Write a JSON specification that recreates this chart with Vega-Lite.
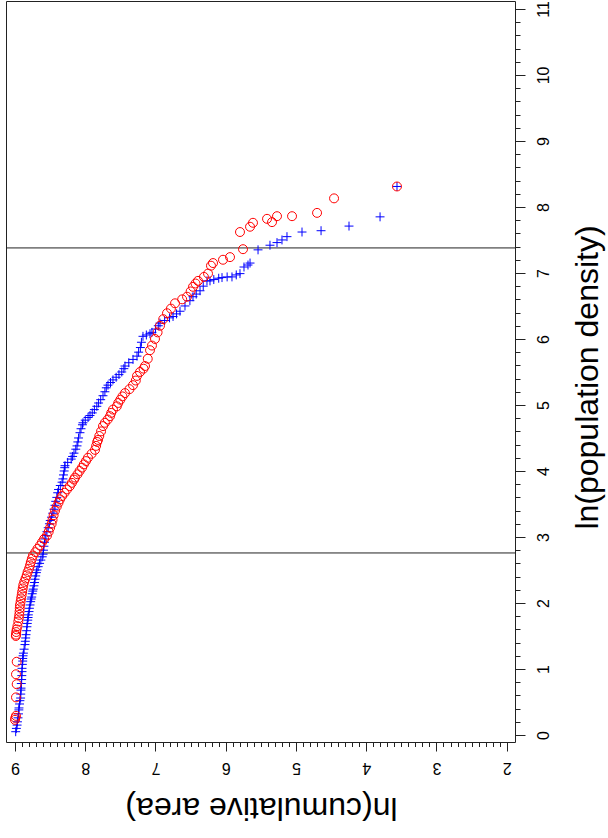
{
  "$schema": "https://vega.github.io/schema/vega-lite/v6.json",
  "width": 509,
  "height": 741,
  "autosize": {"type": "none"},
  "padding": {"left": 6, "top": 1, "right": 93, "bottom": 96},
  "background": "white",
  "config": {"view": {"stroke": "#222", "strokeWidth": 1}, "font": "Liberation Sans"},
  "datasets": {
    "lines": [{"d": 2.758}, {"d": 7.379}],
    "pts": [
      {"s":"b","d":0.05,"v":8.99},{"s":"b","d":0.1,"v":8.98},{"s":"b","d":0.15,"v":8.97},{"s":"b","d":0.2,"v":8.965},{"s":"b","d":0.26,"v":8.957},{"s":"b","d":0.32,"v":8.95},{"s":"b","d":0.38,"v":8.945},{"s":"b","d":0.41,"v":8.943},{"s":"b","d":0.47,"v":8.935},{"s":"b","d":0.52,"v":8.93},{"s":"b","d":0.56,"v":8.92},{"s":"b","d":0.62,"v":8.918},{"s":"b","d":0.68,"v":8.915},{"s":"b","d":0.71,"v":8.914},{"s":"b","d":0.78,"v":8.91},{"s":"b","d":0.84,"v":8.905},{"s":"b","d":0.9,"v":8.903},{"s":"b","d":0.96,"v":8.9},{"s":"b","d":1.01,"v":8.9},{"s":"b","d":1.07,"v":8.895},{"s":"b","d":1.12,"v":8.89},{"s":"b","d":1.16,"v":8.89},{"s":"b","d":1.2,"v":8.885},{"s":"b","d":1.24,"v":8.88},{"s":"b","d":1.3,"v":8.87},{"s":"b","d":1.37,"v":8.858},{"s":"b","d":1.42,"v":8.853},{"s":"b","d":1.47,"v":8.848},{"s":"b","d":1.52,"v":8.843},{"s":"b","d":1.58,"v":8.835},{"s":"b","d":1.64,"v":8.83},{"s":"b","d":1.69,"v":8.825},{"s":"b","d":1.74,"v":8.818},{"s":"b","d":1.78,"v":8.814},{"s":"b","d":1.82,"v":8.81},{"s":"b","d":1.87,"v":8.8},{"s":"b","d":1.92,"v":8.795},{"s":"b","d":1.97,"v":8.786},{"s":"b","d":2.02,"v":8.777},{"s":"b","d":2.06,"v":8.77},{"s":"b","d":2.09,"v":8.762},{"s":"b","d":2.14,"v":8.755},{"s":"b","d":2.18,"v":8.747},{"s":"b","d":2.21,"v":8.74},{"s":"b","d":2.26,"v":8.73},{"s":"b","d":2.31,"v":8.722},{"s":"b","d":2.36,"v":8.715},{"s":"b","d":2.41,"v":8.705},{"s":"b","d":2.46,"v":8.695},{"s":"b","d":2.5,"v":8.687},{"s":"b","d":2.55,"v":8.67},{"s":"b","d":2.6,"v":8.65},{"s":"b","d":2.65,"v":8.632},{"s":"b","d":2.7,"v":8.612},{"s":"b","d":2.74,"v":8.6},{"s":"b","d":2.8,"v":8.594},{"s":"b","d":2.86,"v":8.588},{"s":"b","d":2.92,"v":8.58},{"s":"b","d":2.97,"v":8.573},{"s":"b","d":3.02,"v":8.56},{"s":"b","d":3.08,"v":8.545},{"s":"b","d":3.14,"v":8.527},{"s":"b","d":3.2,"v":8.51},{"s":"b","d":3.25,"v":8.498},{"s":"b","d":3.3,"v":8.48},{"s":"b","d":3.36,"v":8.462},{"s":"b","d":3.42,"v":8.445},{"s":"b","d":3.48,"v":8.43},{"s":"b","d":3.54,"v":8.42},{"s":"b","d":3.6,"v":8.405},{"s":"b","d":3.67,"v":8.392},{"s":"b","d":3.72,"v":8.38},{"s":"b","d":3.78,"v":8.355},{"s":"b","d":3.83,"v":8.33},{"s":"b","d":3.88,"v":8.318},{"s":"b","d":3.94,"v":8.31},{"s":"b","d":4.0,"v":8.3},{"s":"b","d":4.05,"v":8.292},{"s":"b","d":4.08,"v":8.288},{"s":"b","d":4.13,"v":8.25},{"s":"b","d":4.18,"v":8.2},{"s":"b","d":4.22,"v":8.18},{"s":"b","d":4.27,"v":8.16},{"s":"b","d":4.33,"v":8.135},{"s":"b","d":4.38,"v":8.117},{"s":"b","d":4.44,"v":8.105},{"s":"b","d":4.5,"v":8.095},{"s":"b","d":4.58,"v":8.075},{"s":"b","d":4.64,"v":8.06},{"s":"b","d":4.7,"v":8.04},{"s":"b","d":4.73,"v":8.032},{"s":"b","d":4.77,"v":8.0},{"s":"b","d":4.81,"v":7.96},{"s":"b","d":4.84,"v":7.932},{"s":"b","d":4.88,"v":7.9},{"s":"b","d":4.93,"v":7.87},{"s":"b","d":4.98,"v":7.835},{"s":"b","d":5.03,"v":7.81},{"s":"b","d":5.08,"v":7.78},{"s":"b","d":5.14,"v":7.747},{"s":"b","d":5.2,"v":7.72},{"s":"b","d":5.26,"v":7.7},{"s":"b","d":5.3,"v":7.676},{"s":"b","d":5.34,"v":7.64},{"s":"b","d":5.38,"v":7.605},{"s":"b","d":5.42,"v":7.56},{"s":"b","d":5.46,"v":7.52},{"s":"b","d":5.5,"v":7.48},{"s":"b","d":5.55,"v":7.45},{"s":"b","d":5.59,"v":7.434},{"s":"b","d":5.64,"v":7.38},{"s":"b","d":5.69,"v":7.32},{"s":"b","d":5.74,"v":7.263},{"s":"b","d":5.8,"v":7.24},{"s":"b","d":5.87,"v":7.215},{"s":"b","d":5.95,"v":7.2},{"s":"b","d":6.04,"v":7.178},{"s":"b","d":6.06,"v":7.13},{"s":"b","d":6.08,"v":7.078},{"s":"b","d":6.1,"v":7.05},{"s":"b","d":6.15,"v":7.0},{"s":"b","d":6.2,"v":6.96},{"s":"b","d":6.24,"v":6.936},{"s":"b","d":6.28,"v":6.87},{"s":"b","d":6.32,"v":6.8},{"s":"b","d":6.34,"v":6.75},{"s":"b","d":6.38,"v":6.7},{"s":"b","d":6.42,"v":6.651},{"s":"b","d":6.5,"v":6.58},{"s":"b","d":6.58,"v":6.51},{"s":"b","d":6.64,"v":6.466},{"s":"b","d":6.68,"v":6.42},{"s":"b","d":6.73,"v":6.366},{"s":"b","d":6.8,"v":6.32},{"s":"b","d":6.88,"v":6.267},{"s":"b","d":6.88,"v":6.224},{"s":"b","d":6.9,"v":6.17},{"s":"b","d":6.92,"v":6.1},{"s":"b","d":6.93,"v":6.053},{"s":"b","d":6.94,"v":5.98},{"s":"b","d":6.94,"v":5.911},{"s":"b","d":6.97,"v":5.85},{"s":"b","d":6.99,"v":5.797},{"s":"b","d":7.09,"v":5.74},{"s":"b","d":7.12,"v":5.683},{"s":"b","d":7.15,"v":5.654},{"s":"b","d":7.35,"v":5.54},{"s":"b","d":7.42,"v":5.37},{"s":"b","d":7.46,"v":5.27},{"s":"b","d":7.5,"v":5.199},{"s":"b","d":7.55,"v":5.128},{"s":"b","d":7.62,"v":4.914},{"s":"b","d":7.64,"v":4.643},{"s":"b","d":7.71,"v":4.245},{"s":"b","d":7.85,"v":3.803},{"s":"b","d":8.31,"v":3.562},
      {"s":"r","d":0.23,"v":9.0},{"s":"r","d":0.26,"v":8.995},{"s":"r","d":0.29,"v":8.986},{"s":"r","d":0.57,"v":8.986},{"s":"r","d":0.77,"v":8.976},{"s":"r","d":0.92,"v":8.986},{"s":"r","d":1.11,"v":8.976},{"s":"r","d":1.5,"v":8.988},{"s":"r","d":1.52,"v":8.986},{"s":"r","d":1.56,"v":8.982},{"s":"r","d":1.6,"v":8.976},{"s":"r","d":1.65,"v":8.965},{"s":"r","d":1.72,"v":8.953},{"s":"r","d":1.77,"v":8.946},{"s":"r","d":1.82,"v":8.939},{"s":"r","d":1.87,"v":8.935},{"s":"r","d":1.92,"v":8.932},{"s":"r","d":1.97,"v":8.929},{"s":"r","d":2.02,"v":8.92},{"s":"r","d":2.07,"v":8.913},{"s":"r","d":2.12,"v":8.905},{"s":"r","d":2.17,"v":8.898},{"s":"r","d":2.22,"v":8.89},{"s":"r","d":2.27,"v":8.882},{"s":"r","d":2.32,"v":8.868},{"s":"r","d":2.37,"v":8.85},{"s":"r","d":2.42,"v":8.833},{"s":"r","d":2.47,"v":8.82},{"s":"r","d":2.52,"v":8.8},{"s":"r","d":2.57,"v":8.786},{"s":"r","d":2.62,"v":8.775},{"s":"r","d":2.67,"v":8.76},{"s":"r","d":2.72,"v":8.744},{"s":"r","d":2.77,"v":8.71},{"s":"r","d":2.82,"v":8.68},{"s":"r","d":2.87,"v":8.645},{"s":"r","d":2.92,"v":8.615},{"s":"r","d":2.97,"v":8.585},{"s":"r","d":3.02,"v":8.545},{"s":"r","d":3.08,"v":8.52},{"s":"r","d":3.14,"v":8.5},{"s":"r","d":3.2,"v":8.478},{"s":"r","d":3.26,"v":8.465},{"s":"r","d":3.33,"v":8.45},{"s":"r","d":3.4,"v":8.43},{"s":"r","d":3.46,"v":8.405},{"s":"r","d":3.52,"v":8.38},{"s":"r","d":3.57,"v":8.36},{"s":"r","d":3.62,"v":8.33},{"s":"r","d":3.67,"v":8.295},{"s":"r","d":3.72,"v":8.26},{"s":"r","d":3.77,"v":8.22},{"s":"r","d":3.82,"v":8.19},{"s":"r","d":3.87,"v":8.16},{"s":"r","d":3.9,"v":8.146},{"s":"r","d":3.95,"v":8.11},{"s":"r","d":4.0,"v":8.08},{"s":"r","d":4.05,"v":8.046},{"s":"r","d":4.1,"v":8.02},{"s":"r","d":4.15,"v":7.99},{"s":"r","d":4.2,"v":7.961},{"s":"r","d":4.26,"v":7.91},{"s":"r","d":4.32,"v":7.861},{"s":"r","d":4.38,"v":7.845},{"s":"r","d":4.44,"v":7.83},{"s":"r","d":4.47,"v":7.818},{"s":"r","d":4.53,"v":7.8},{"s":"r","d":4.6,"v":7.775},{"s":"r","d":4.68,"v":7.747},{"s":"r","d":4.73,"v":7.72},{"s":"r","d":4.78,"v":7.68},{"s":"r","d":4.83,"v":7.647},{"s":"r","d":4.88,"v":7.63},{"s":"r","d":4.93,"v":7.605},{"s":"r","d":4.98,"v":7.55},{"s":"r","d":5.03,"v":7.53},{"s":"r","d":5.08,"v":7.5},{"s":"r","d":5.13,"v":7.47},{"s":"r","d":5.18,"v":7.434},{"s":"r","d":5.24,"v":7.37},{"s":"r","d":5.3,"v":7.32},{"s":"r","d":5.37,"v":7.28},{"s":"r","d":5.44,"v":7.263},{"s":"r","d":5.5,"v":7.22},{"s":"r","d":5.55,"v":7.17},{"s":"r","d":5.59,"v":7.149},{"s":"r","d":5.7,"v":7.11},{"s":"r","d":5.83,"v":7.078},{"s":"r","d":5.9,"v":7.05},{"s":"r","d":6.0,"v":7.007},{"s":"r","d":6.1,"v":6.97},{"s":"r","d":6.2,"v":6.936},{"s":"r","d":6.3,"v":6.89},{"s":"r","d":6.39,"v":6.836},{"s":"r","d":6.46,"v":6.78},{"s":"r","d":6.54,"v":6.722},{"s":"r","d":6.6,"v":6.62},{"s":"r","d":6.64,"v":6.551},{"s":"r","d":6.72,"v":6.5},{"s":"r","d":6.79,"v":6.466},{"s":"r","d":6.84,"v":6.43},{"s":"r","d":6.88,"v":6.395},{"s":"r","d":6.94,"v":6.31},{"s":"r","d":6.99,"v":6.252},{"s":"r","d":7.11,"v":6.21},{"s":"r","d":7.15,"v":6.181},{"s":"r","d":7.2,"v":6.039},{"s":"r","d":7.24,"v":5.939},{"s":"r","d":7.36,"v":5.754},{"s":"r","d":7.62,"v":5.797},{"s":"r","d":7.7,"v":5.654},{"s":"r","d":7.76,"v":5.612},{"s":"r","d":7.82,"v":5.412},{"s":"r","d":7.77,"v":5.341},{"s":"r","d":7.86,"v":5.27},{"s":"r","d":7.86,"v":5.056},{"s":"r","d":7.91,"v":4.7},{"s":"r","d":8.13,"v":4.458},{"s":"r","d":8.31,"v":3.562}
    ]
  },
  "encoding": {
    "y": {
      "field": "d",
      "type": "quantitative",
      "scale": {"domain": [-0.106, 11.12], "nice": false, "zero": false},
      "axis": {
        "orient": "right",
        "values": [0,0.2,0.4,0.6,0.8,1,1.2,1.4,1.6,1.8,2,2.2,2.4,2.6,2.8,3,3.2,3.4,3.6,3.8,4,4.2,4.4,4.6,4.8,5,5.2,5.4,5.6,5.8,6,6.2,6.4,6.6,6.8,7,7.2,7.4,7.6,7.8,8,8.2,8.4,8.6,8.8,9,9.2,9.4,9.6,9.8,10,10.2,10.4,10.6,10.8,11],
        "grid": false,
        "domain": false,
        "tickColor": "#222",
        "tickWidth": 1,
        "tickSize": {"condition": {"test": "datum.value % 1 === 0", "value": 10}, "value": 5},
        "labelExpr": "datum.value % 1 === 0 ? '' + datum.value : ''",
        "labelAngle": 270,
        "labelAlign": "center",
        "labelBaseline": "top",
        "labelPadding": 10,
        "labelFontSize": 16,
        "labelColor": "black",
        "labelOverlap": false,
        "labelBound": false,
        "labelFlush": false,
        "title": "ln(population density)",
        "titleFontSize": 32,
        "titleFontWeight": "normal",
        "titleColor": "black",
        "titleAngle": 270,
        "titleX": 72,
        "titleY": 376,
        "titleBaseline": "middle",
        "titleAlign": "center"
      }
    }
  },
  "layer": [
    {
      "data": {"name": "lines"},
      "mark": {"type": "rule", "color": "#222", "strokeWidth": 1},
      "encoding": {}
    },
    {
      "data": {"name": "pts"},
      "mark": {"type": "point", "filled": false, "strokeWidth": 1, "size": 80, "opacity": 1},
      "encoding": {
        "x": {
          "field": "v",
          "type": "quantitative",
          "scale": {"domain": [1.882, 9.128], "reverse": true, "nice": false, "zero": false},
          "axis": {
            "orient": "bottom",
            "values": [2,2.1,2.2,2.3,2.4,2.5,2.6,2.7,2.8,2.9,3,3.1,3.2,3.3,3.4,3.5,3.6,3.7,3.8,3.9,4,4.1,4.2,4.3,4.4,4.5,4.6,4.7,4.8,4.9,5,5.1,5.2,5.3,5.4,5.5,5.6,5.7,5.8,5.9,6,6.1,6.2,6.3,6.4,6.5,6.6,6.7,6.8,6.9,7,7.1,7.2,7.3,7.4,7.5,7.6,7.7,7.8,7.9,8,8.1,8.2,8.3,8.4,8.5,8.6,8.7,8.8,8.9,9],
            "grid": false,
            "domain": false,
            "tickColor": "#222",
            "tickWidth": 1,
            "tickSize": {"condition": {"test": "datum.value % 1 === 0", "value": 9}, "value": 4.5},
            "labelExpr": "datum.value % 1 === 0 ? '' + datum.value : ''",
            "labelAngle": 180,
            "labelAlign": "center",
            "labelBaseline": "bottom",
            "labelPadding": 8,
            "labelFontSize": 16,
            "labelColor": "black",
            "labelOverlap": false,
            "labelBound": false,
            "labelFlush": false,
            "title": "ln(cumulative area)",
            "titleFontSize": 32,
            "titleFontWeight": "normal",
            "titleColor": "black",
            "titleAngle": 180,
            "titleX": 255,
            "titleY": 65,
            "titleBaseline": "middle",
            "titleAlign": "center"
          }
        },
        "shape": {
          "field": "s",
          "type": "nominal",
          "scale": {"domain": ["b", "r"], "range": ["M-1,0H1M0,-1V1", "circle"]},
          "legend": null
        },
        "color": {
          "field": "s",
          "type": "nominal",
          "scale": {"domain": ["b", "r"], "range": ["#0000FF", "#FF0000"]},
          "legend": null
        }
      }
    }
  ]
}
